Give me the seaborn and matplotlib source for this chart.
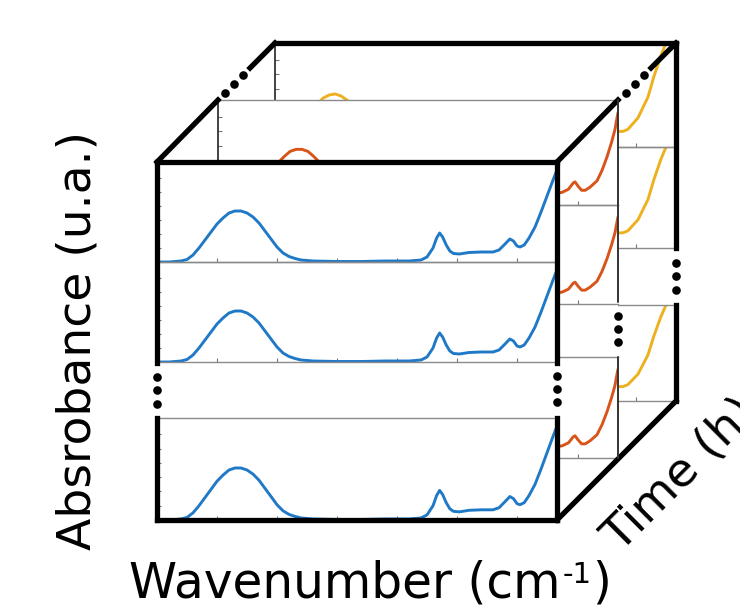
import numpy as np
import pandas as pd
import matplotlib
matplotlib.use("Agg")
import matplotlib.pyplot as plt
import seaborn as sns

# ---------------- data ----------------
wavenumber_blue = [4000, 3900, 3800, 3750, 3700, 3650, 3600, 3550, 3500, 3450, 3400, 3350,
                   3300, 3250, 3200, 3150, 3100, 3050, 3000, 2950, 2900, 2850, 2800, 2700,
                   2500, 2300, 2100, 1900, 1800, 1750, 1700, 1670, 1645, 1620, 1590, 1560,
                   1530, 1480, 1400, 1300, 1200, 1150, 1100, 1060, 1030, 1000, 975, 940,
                   900, 850, 800, 750, 700, 667]
absorbance_blue = [0.00, 0.00, 0.01, 0.025, 0.07, 0.14, 0.22, 0.30, 0.38, 0.44, 0.49, 0.51,
                   0.51, 0.49, 0.45, 0.39, 0.31, 0.23, 0.15, 0.09, 0.055, 0.035, 0.02, 0.01,
                   0.005, 0.005, 0.01, 0.01, 0.02, 0.05, 0.14, 0.24, 0.29, 0.25, 0.17, 0.11,
                   0.085, 0.08, 0.095, 0.10, 0.10, 0.12, 0.18, 0.23, 0.21, 0.16, 0.15, 0.17,
                   0.24, 0.35, 0.50, 0.66, 0.82, 0.92]

wavenumber_orange = [4000, 3900, 3800, 3750, 3700, 3650, 3600, 3550, 3500, 3450, 3400, 3350,
                     3300, 3250, 3200, 3150, 3100, 3050, 3000, 2950, 2900, 2850, 2800, 2700,
                     2500, 2300, 2100, 1900, 1800, 1750, 1700, 1670, 1645, 1620, 1590, 1560,
                     1530, 1480, 1400, 1300, 1200, 1133, 1080, 1040, 1025, 1000, 970, 940,
                     900, 842, 800, 758, 720, 692, 680, 667]
absorbance_orange = [0.00, 0.00, 0.01, 0.03, 0.08, 0.15, 0.24, 0.32, 0.40, 0.46, 0.51, 0.53,
                     0.53, 0.51, 0.46, 0.40, 0.32, 0.24, 0.16, 0.10, 0.06, 0.035, 0.02, 0.01,
                     0.005, 0.005, 0.01, 0.01, 0.02, 0.05, 0.14, 0.24, 0.29, 0.25, 0.17, 0.11,
                     0.09, 0.085, 0.095, 0.10, 0.11, 0.12, 0.15, 0.21, 0.22, 0.18, 0.14, 0.14,
                     0.17, 0.23, 0.33, 0.46, 0.60, 0.72, 0.80, 0.88]

wavenumber_yellow = [4000, 3950, 3900, 3850, 3800, 3750, 3700, 3650, 3600, 3550, 3500, 3450,
                     3400, 3350, 3300, 3250, 3200, 3150, 3100, 3000, 2800, 2500, 2200, 1900,
                     1750, 1700, 1650, 1620, 1580, 1530, 1450, 1300, 1200, 1108, 1067, 983,
                     900, 850, 792, 750, 700, 667]
absorbance_yellow = [0.00, 0.01, 0.03, 0.08, 0.15, 0.24, 0.33, 0.41, 0.47, 0.50, 0.51, 0.49,
                     0.45, 0.38, 0.30, 0.22, 0.14, 0.08, 0.05, 0.02, 0.01, 0.01, 0.01, 0.02,
                     0.06, 0.15, 0.27, 0.24, 0.16, 0.13, 0.13, 0.14, 0.15, 0.15, 0.17, 0.28,
                     0.48, 0.68, 0.88, 1.00, 1.25, 1.40]

x_ticks = [3500, 3000, 2500, 2000, 1500, 1000]
y_ticks = [0.14, 0.28, 0.42, 0.56, 0.70, 0.84]

x_label_main = "Wavenumber (cm"
x_label_sup = "-1"
x_label_end = ")"
y_label = "Absrobance (u.a.)"
z_label = "Time (h)"

colors = {"blue": "#2079C7", "orange": "#D9541A", "yellow": "#EDB120"}

# ---------------- layout (pixels of the 740x609 picture) ----------------
W, H = 740, 609
FRONT_X, FRONT_PANELS = (157, 557), [(162, 262), (262, 362), (418, 520)]
MIDDLE_X, MIDDLE_PANELS = (218, 618), [(100, 205), (205, 304), (357, 458)]
BACK_X, BACK_PANELS = (275, 676), [(43, 147), (147, 248), (305, 401)]

sns.set_theme(style="white")
plt.rcParams["font.family"] = ["DejaVu Sans"]
plt.rcParams["text.color"] = "black"

fig = plt.figure(figsize=(W / 100, H / 100), dpi=100)
fig.patch.set_facecolor("white")


def rect(x0, x1, y0, y1):
    return [x0 / W, 1 - y1 / H, (x1 - x0) / W, (y1 - y0) / H]


def layer(xr, panels, wn, ab, color):
    # white background covering the whole layer (occludes the layers behind)
    bg = fig.add_axes(rect(xr[0], xr[1], panels[0][0], panels[-1][1]))
    bg.set_facecolor("white")
    bg.set_xticks([]); bg.set_yticks([])
    for s in bg.spines.values():
        s.set_visible(False)
    df = pd.DataFrame({"wn": wn, "ab": ab})
    for (y0, y1) in panels:
        ax = fig.add_axes(rect(xr[0], xr[1], y0, y1))
        ax.set_facecolor("none")
        sns.lineplot(data=df, x="wn", y="ab", ax=ax, color=color,
                     linewidth=2.1, legend=False)
        ax.set_xlim(4000, 667)
        ax.set_ylim(0, 1)
        ax.set_xticks(x_ticks)
        ax.set_yticks(y_ticks)
        ax.tick_params(direction="in", length=3, width=0.8, colors="#777777",
                       bottom=True, left=True, labelbottom=False, labelleft=False)
        ax.set_xlabel("")
        ax.set_ylabel("")
        for s in ("top", "bottom"):
            ax.spines[s].set_visible(True)
            ax.spines[s].set_color("#8a8a8a")
            ax.spines[s].set_linewidth(1.0)
        ax.spines["left"].set_color("#222222")
        ax.spines["left"].set_linewidth(1.2)
        ax.spines["right"].set_visible(False)


layer(BACK_X, BACK_PANELS, wavenumber_yellow, absorbance_yellow, colors["yellow"])
layer(MIDDLE_X, MIDDLE_PANELS, wavenumber_orange, absorbance_orange, colors["orange"])
layer(FRONT_X, FRONT_PANELS, wavenumber_blue, absorbance_blue, colors["blue"])

# ---------------- box outline overlay ----------------
ov = fig.add_axes([0, 0, 1, 1])
ov.set_xlim(0, W)
ov.set_ylim(H, 0)
ov.axis("off")

thick = dict(color="black", linewidth=3.8, solid_capstyle="projecting")


def seg(p, q, **kw):
    ov.plot([p[0], q[0]], [p[1], q[1]], **kw)


def dots(pts):
    ov.plot([p[0] for p in pts], [p[1] for p in pts], "o", color="black",
            markersize=6.2, markeredgewidth=0)


# front face
seg((157, 162), (557, 162), **thick)
seg((157, 520), (557, 520), **thick)
seg((157, 162), (157, 363), **thick)
seg((157, 418), (157, 520), **thick)
seg((557, 162), (557, 363), **thick)
seg((557, 418), (557, 520), **thick)
dots([(157, 377), (157, 390), (157, 404)])
dots([(557, 376), (557, 389), (557, 402)])

# top-left diagonal
seg((157, 162), (218, 100), **thick)
dots([(225, 93), (234, 84), (243, 75)])
seg((250, 68), (275, 43), **thick)

# top-right diagonal
seg((557, 162), (618, 100), **thick)
dots([(626, 93), (635, 84), (644, 75)])
seg((651, 68), (676, 43), **thick)

# bottom-right diagonal
seg((557, 520), (676, 401), **thick)

# back top and right edge
seg((275, 43), (676, 43), **thick)
seg((676, 43), (676, 248), **thick)
seg((676, 305), (676, 401), **thick)
dots([(676, 263), (676, 276), (676, 290)])

# middle right edge (thin)
thin = dict(color="#333333", linewidth=1.4)
seg((618, 100), (618, 302), **thin)
seg((618, 357), (618, 458), **thin)
dots([(618, 316), (618, 329), (618, 342)])

# ---------------- labels ----------------
FS = 34
r = fig.canvas.get_renderer()
t1 = fig.text(129 / W, 1 - 598 / H, x_label_main, fontsize=FS + 1, ha="left",
              va="baseline", color="black")
bb = t1.get_window_extent(renderer=r)
t2 = fig.text((bb.x1 + 2) / W, 1 - 583 / H, x_label_sup, fontsize=FS * 0.62,
              ha="left", va="baseline", color="black")
bb2 = t2.get_window_extent(renderer=r)
fig.text((bb2.x1 + 1) / W, 1 - 598 / H, x_label_end, fontsize=FS + 1, ha="left",
         va="baseline", color="black")

fig.text(78 / W, 1 - 340 / H, y_label, fontsize=FS, rotation=90, ha="center",
         va="center", color="black")

fig.text(620 / W, 1 - 553 / H, z_label, fontsize=FS, rotation=45,
         rotation_mode="anchor", ha="left", va="baseline", color="black")

fig.savefig("out.png", dpi=100, facecolor="white")
